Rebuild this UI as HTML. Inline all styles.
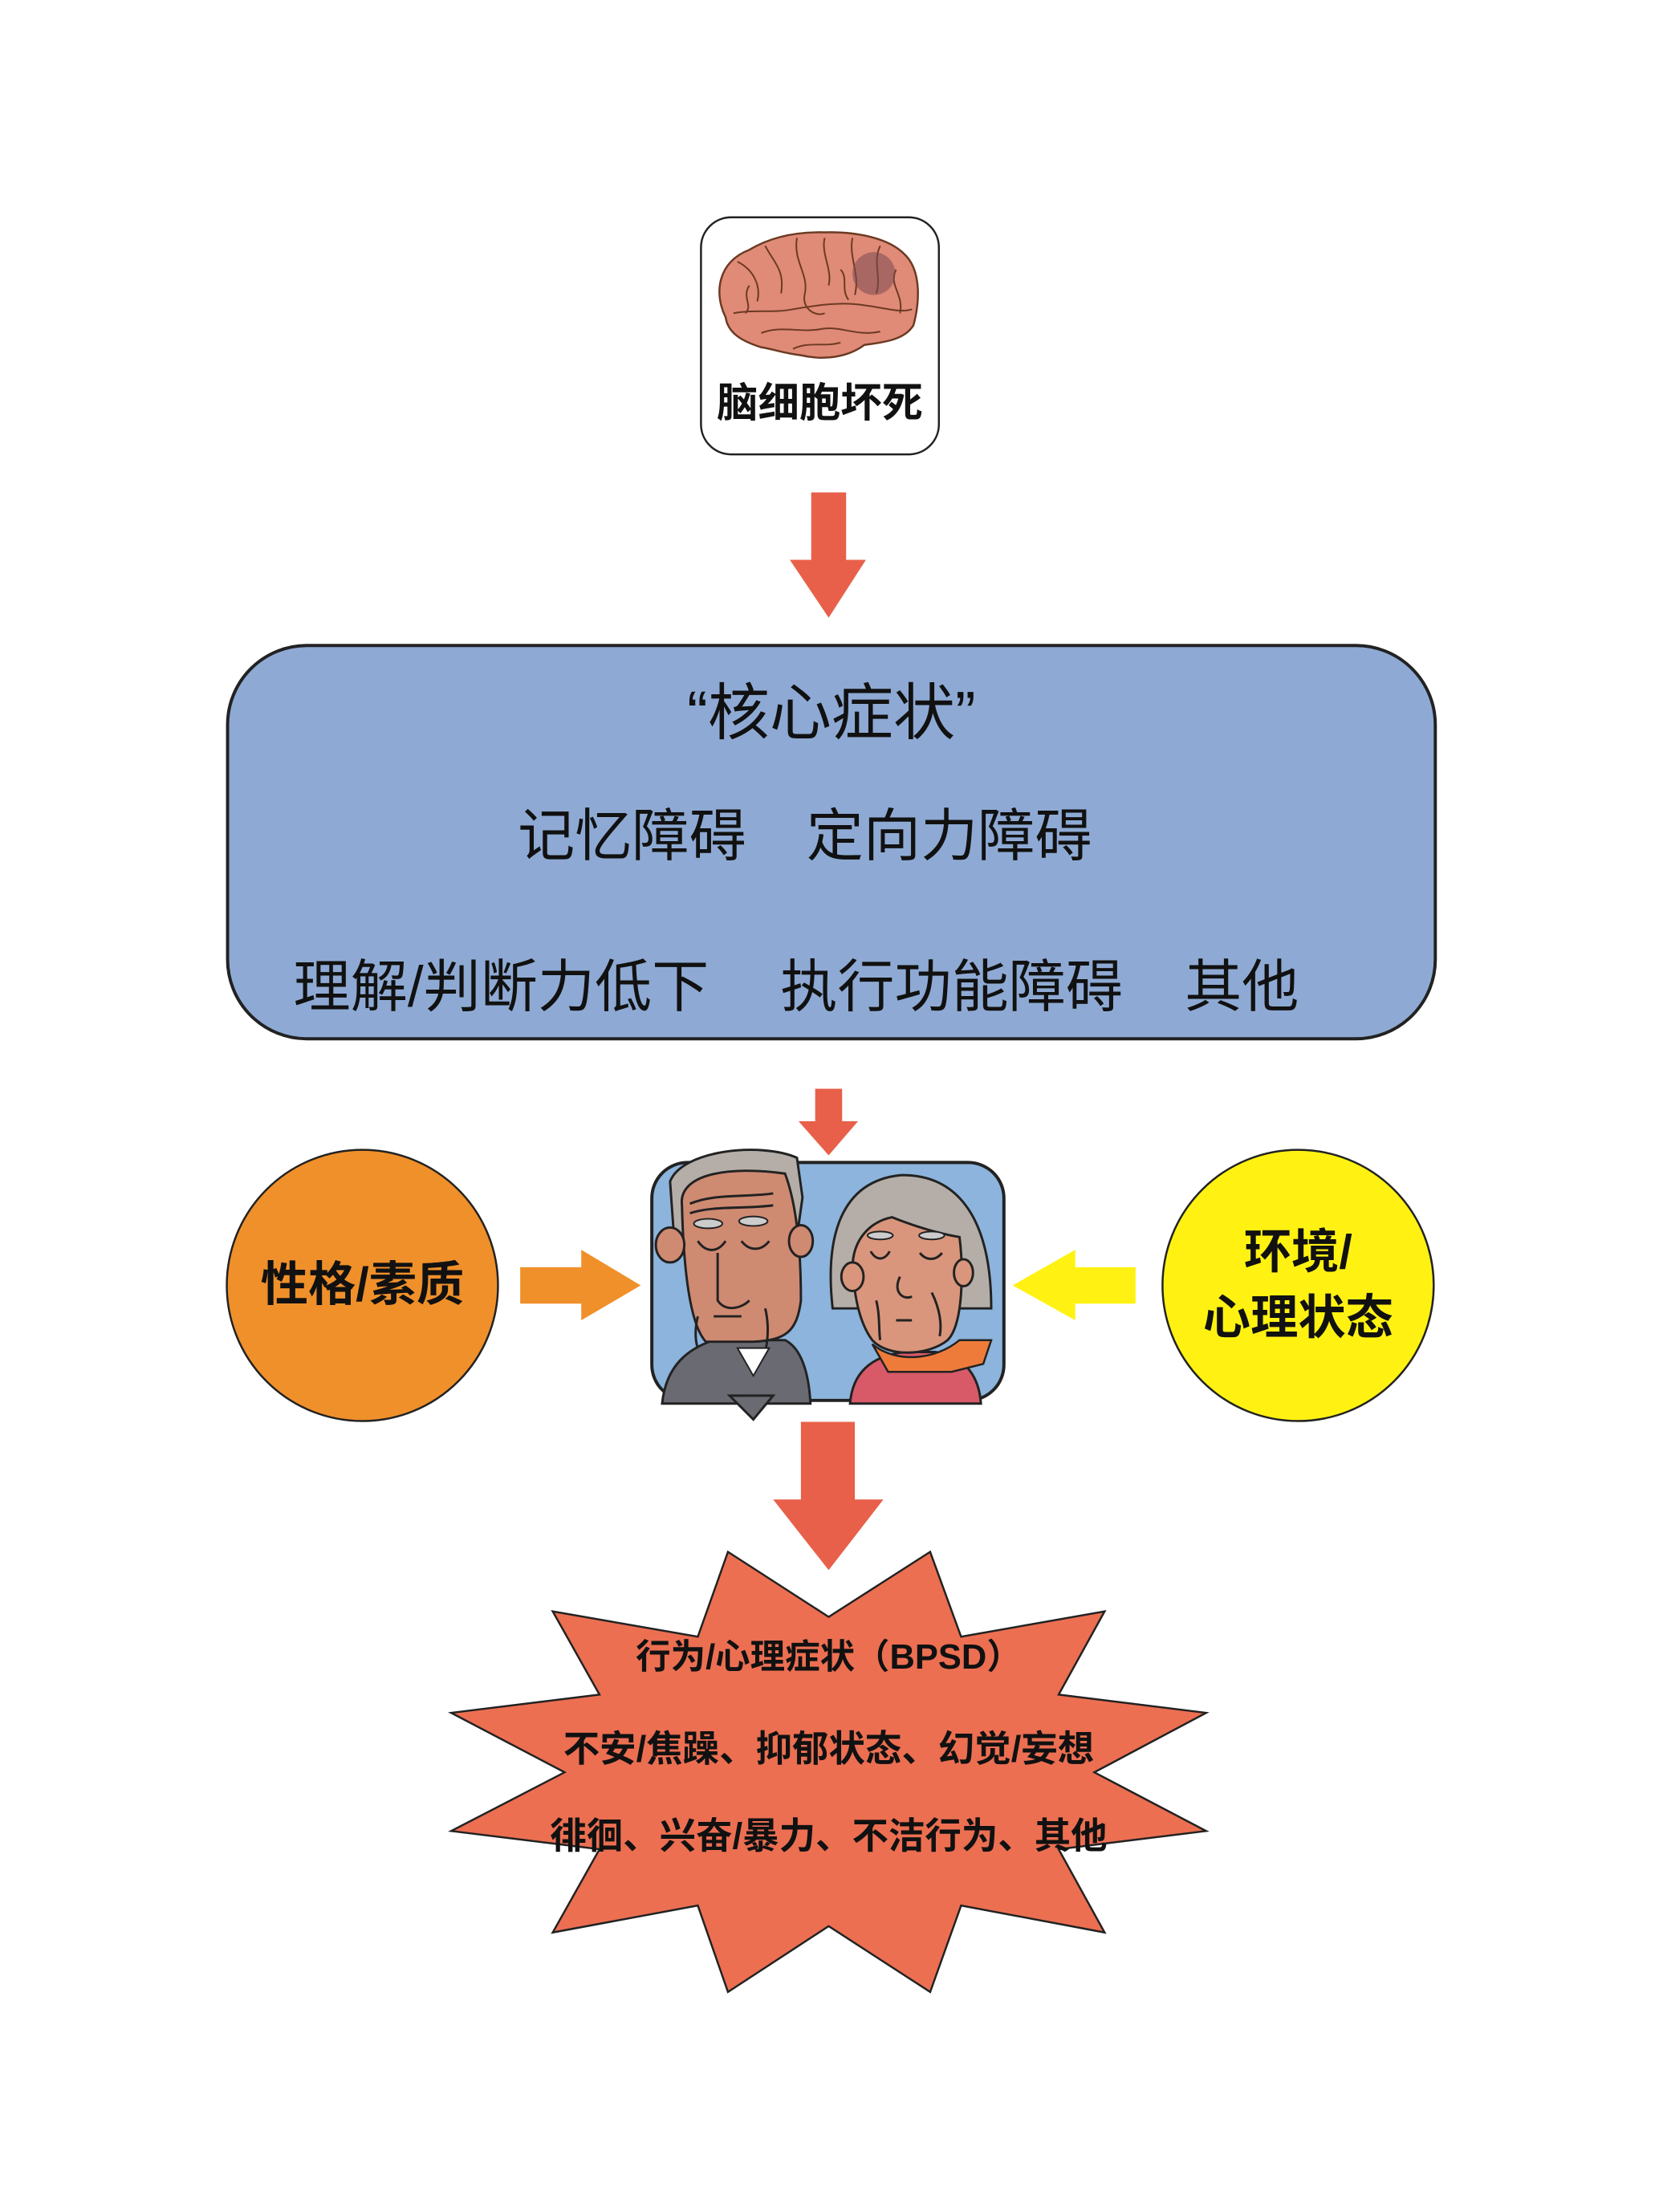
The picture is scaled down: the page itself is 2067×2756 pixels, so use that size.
<!DOCTYPE html>
<html><head><meta charset="utf-8"><style>
html,body{margin:0;padding:0;background:#fff;}
body{width:2067px;height:2756px;position:relative;overflow:hidden;font-family:"Liberation Sans","Noto Sans CJK SC",sans-serif;}
#w{position:absolute;left:0;top:0;width:2067px;height:2756px;transform:scale(0.988);transform-origin:0 0;}
.t{position:absolute;white-space:nowrap;color:#111;line-height:1;}
</style></head><body><div id="w">
<svg width="2067" height="2756" style="position:absolute;left:0;top:0">
<rect x="884" y="274" width="300" height="299" rx="38" fill="#fff" stroke="#222" stroke-width="2.5"/>
<g>
<path d="M915,400 C900,370 905,330 945,315 C970,300 1000,292 1040,293 C1080,292 1120,300 1140,320 C1162,340 1160,380 1152,410 C1140,430 1110,432 1090,435 C1070,450 1040,455 1010,448 C985,445 975,440 960,438 C935,430 918,420 915,400 Z" fill="#e08a78" stroke="#6b3a22" stroke-width="2.5"/>
<g fill="none" stroke="#6b3a22" stroke-width="2">
<path d="M930,330 C950,340 960,360 955,380 M965,310 C975,330 990,340 985,370 M1005,300 C1000,330 1020,345 1015,370 C1010,390 1030,400 1040,395"/>
<path d="M1040,300 C1035,320 1050,340 1045,360 M1075,300 C1070,325 1085,345 1078,372 M1110,310 C1100,330 1112,350 1105,370"/>
<path d="M925,395 C950,390 975,395 1000,390 C1030,385 1060,380 1090,385 C1115,388 1135,395 1150,390"/>
<path d="M960,420 C985,410 1010,420 1035,415 C1060,410 1080,425 1110,418 M1000,440 C1020,430 1040,438 1060,432"/>
<path d="M1130,340 C1120,360 1140,370 1135,395 M945,360 C935,375 950,385 940,395 M1060,340 C1070,350 1060,365 1070,378"/>
</g>
<circle cx="1102" cy="345" r="27" fill="#7a4a50" opacity="0.55"/>
</g>
<polygon points="1023,621 1067,621 1067,706 1092,706 1045,779 996,706 1023,706" fill="#e8604a"/>
<rect x="287" y="814" width="1523" height="496" rx="100" fill="#8eaad4" stroke="#222" stroke-width="4"/>
<polygon points="1028,1373 1062,1373 1062,1414 1082,1414 1045,1457 1007,1414 1028,1414" fill="#e8604a"/>
<circle cx="457" cy="1621" r="171" fill="#f0902a" stroke="#222" stroke-width="2.5"/>
<circle cx="1637" cy="1621" r="171" fill="#fff212" stroke="#222" stroke-width="2.5"/>
<polygon points="656,1598 733,1598 733,1576 808,1621 733,1665 733,1644 656,1644" fill="#f0902a"/>
<polygon points="1432,1598 1356,1598 1356,1576 1277,1621 1356,1665 1356,1644 1432,1644" fill="#fff212"/>
<g>
<rect x="822" y="1466" width="444" height="300" rx="45" fill="#8cb4dc" stroke="#222" stroke-width="4"/>
<path d="M835,1770 C840,1720 870,1700 900,1690 L990,1690 C1010,1700 1020,1730 1022,1770 Z" fill="#6a6a72" stroke="#222" stroke-width="3"/>
<path d="M930,1700 L950,1735 L970,1700 Z" fill="#fff" stroke="#222" stroke-width="2"/>
<path d="M920,1760 L950,1790 L975,1760 Z" fill="#6a6a72" stroke="#222" stroke-width="3"/>
<path d="M845,1490 C860,1450 960,1440 1005,1460 L1012,1510 L1005,1560 L850,1560 Z" fill="#b5aea8" stroke="#222" stroke-width="3"/>
<path d="M860,1520 C855,1480 920,1470 990,1480 C1005,1520 1010,1580 1010,1640 C1005,1680 990,1690 950,1692 L890,1692 C870,1670 862,1600 860,1520 Z" fill="#cf8a72" stroke="#222" stroke-width="3"/>
<ellipse cx="845" cy="1570" rx="18" ry="22" fill="#cf8a72" stroke="#222" stroke-width="3"/>
<ellipse cx="1010" cy="1565" rx="15" ry="20" fill="#cf8a72" stroke="#222" stroke-width="3"/>
<g fill="none" stroke="#222" stroke-width="3">
<path d="M870,1518 C900,1505 940,1510 975,1505 M870,1530 C900,1520 940,1525 975,1520"/>
<path d="M880,1565 C890,1580 905,1580 915,1565 M935,1565 C945,1578 960,1578 970,1565"/>
<path d="M905,1580 L905,1640 C915,1655 935,1650 945,1640 M900,1660 L935,1660 M880,1660 C875,1680 878,1695 880,1700 M965,1650 C970,1670 968,1690 966,1700"/>
</g>
<ellipse cx="893" cy="1543" rx="18" ry="6" fill="#ccc" stroke="#222" stroke-width="2"/>
<ellipse cx="950" cy="1540" rx="18" ry="6" fill="#ccc" stroke="#222" stroke-width="2"/>
<path d="M1072,1770 C1075,1730 1100,1710 1140,1705 L1180,1705 C1220,1710 1235,1740 1237,1770 Z" fill="#d85a68" stroke="#222" stroke-width="3"/>
<path d="M1050,1650 C1040,1560 1060,1490 1135,1482 C1210,1480 1250,1540 1250,1650 Z" fill="#b5aea8" stroke="#222" stroke-width="3"/>
<path d="M1075,1600 C1075,1560 1100,1540 1125,1535 C1150,1545 1180,1555 1210,1560 C1215,1600 1215,1670 1195,1690 C1170,1710 1120,1712 1100,1690 C1085,1670 1078,1640 1075,1600 Z" fill="#d9967c" stroke="#222" stroke-width="3"/>
<ellipse cx="1075" cy="1610" rx="14" ry="18" fill="#d9967c" stroke="#222" stroke-width="3"/>
<ellipse cx="1215" cy="1605" rx="12" ry="17" fill="#d9967c" stroke="#222" stroke-width="3"/>
<path d="M1100,1695 C1130,1720 1180,1715 1210,1690 L1250,1690 L1240,1720 L1200,1730 L1120,1730 Z" fill="#ee7b3a" stroke="#222" stroke-width="2.5"/>
<ellipse cx="1110" cy="1558" rx="16" ry="5" fill="#ccc" stroke="#222" stroke-width="2"/>
<ellipse cx="1175" cy="1558" rx="16" ry="5" fill="#ccc" stroke="#222" stroke-width="2"/>
<g fill="none" stroke="#222" stroke-width="3">
<path d="M1098,1578 C1105,1590 1115,1590 1122,1578 M1160,1580 C1168,1590 1180,1590 1188,1580 M1135,1610 C1125,1630 1140,1640 1150,1635 M1130,1665 L1150,1665 M1105,1640 C1110,1660 1108,1680 1110,1690 M1175,1630 C1185,1650 1188,1670 1185,1685"/>
</g>
</g>
<polygon points="1010,1793 1078,1793 1078,1891 1114,1891 1045,1980 975,1891 1010,1891" fill="#e8604a"/>
<polygon points="918,1957 1045,2039 1173,1957 1212,2064 1393,2032 1335,2137 1521,2160 1380,2235 1521,2309 1335,2332 1393,2437 1212,2403 1173,2512 1045,2429 918,2512 880,2403 697,2437 756,2332 569,2309 712,2235 569,2160 756,2137 697,2032 880,2064" fill="#ec6f52" stroke="#222" stroke-width="2.5"/>
</svg>
<div class="t" style="left:884px;width:300px;text-align:center;top:483px;font-size:52px;font-weight:bold;">脑细胞坏死</div>
<div class="t" style="left:287px;width:1523px;text-align:center;top:860px;font-size:78px;">“核心症状”</div>
<div class="t" style="left:653px;top:1019px;font-size:72px;">记忆障碍</div>
<div class="t" style="left:1017px;top:1019px;font-size:72px;">定向力障碍</div>
<div class="t" style="left:370px;top:1209px;font-size:72px;">理解/判断力低下</div>
<div class="t" style="left:984px;top:1209px;font-size:72px;">执行功能障碍</div>
<div class="t" style="left:1494px;top:1209px;font-size:72px;">其他</div>
<div class="t" style="left:286px;width:342px;text-align:center;top:1590px;font-size:60px;font-weight:bold;">性格/素质</div>
<div class="t" style="left:1466px;width:342px;text-align:center;top:1549px;font-size:60px;font-weight:bold;">环境/</div>
<div class="t" style="left:1466px;width:342px;text-align:center;top:1632px;font-size:60px;font-weight:bold;">心理状态</div>
<div class="t" style="left:569px;width:952px;text-align:center;top:2068px;font-size:44px;font-weight:bold;">行为/心理症状（BPSD）</div>
<div class="t" style="left:569px;width:952px;text-align:center;top:2182px;font-size:46px;font-weight:bold;">不安/焦躁、抑郁状态、幻觉/妄想</div>
<div class="t" style="left:569px;width:952px;text-align:center;top:2292px;font-size:46px;font-weight:bold;">徘徊、兴奋/暴力、不洁行为、其他</div>
</div></body></html>
